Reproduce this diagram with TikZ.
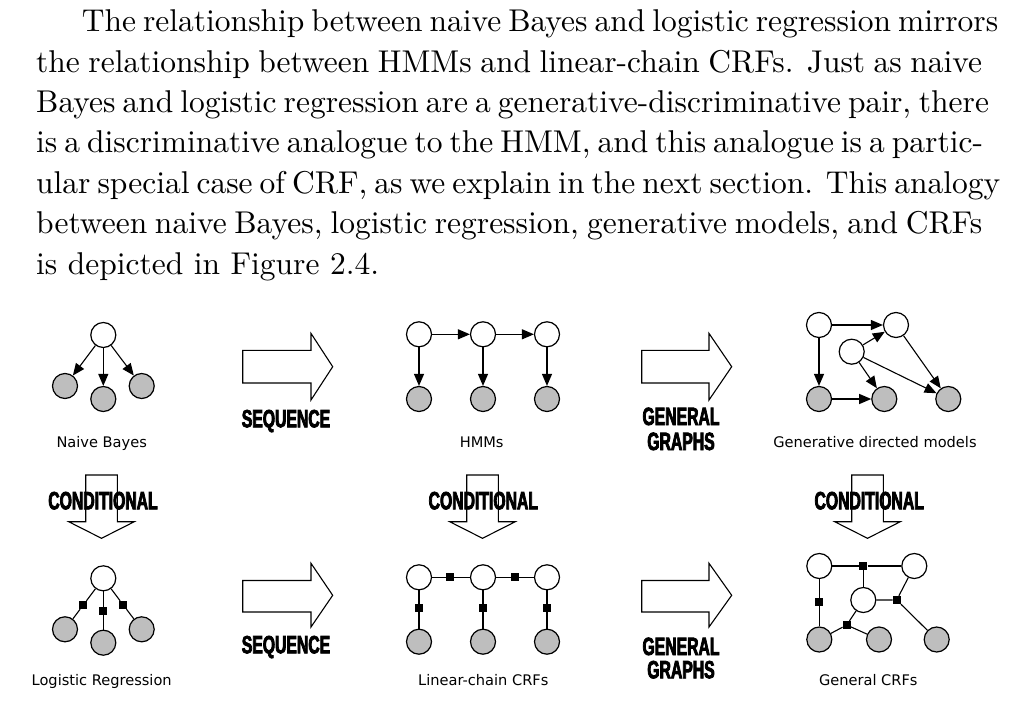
\documentclass[tikz,border=0pt]{standalone}
\usepackage{fontspec}
\usepackage{tikz}
\usetikzlibrary{arrows.meta}
\newfontfamily\bodyfont{lmroman10-regular.otf}
\newfontfamily\labelfont{DejaVu Sans}
\newfontfamily\heavyfont{Liberation Sans}[FakeStretch=0.63,FakeBold=3]
\definecolor{obsgray}{RGB}{190,190,190}

\begin{document}
\begin{tikzpicture}[x=1pt,y=-1pt,
		hidden/.style={circle,draw,line width=1.2pt,fill=white,minimum size=25pt,inner sep=0pt},
		observed/.style={hidden,fill=obsgray},
		factor/.style={rectangle,fill=black,minimum size=8pt,inner sep=0pt},
		edge/.style={line width=1.1pt,-{Triangle[length=12pt,width=10pt]}},
		link/.style={line width=1.1pt},
		blockarrow/.style={line width=1.1pt,fill=white},
		caption/.style={font=\labelfont\fontsize{14.6}{16}\selectfont,anchor=base,inner sep=0pt},
		operation/.style={font=\heavyfont\bfseries\fontsize{25}{27}\selectfont,anchor=base,inner sep=0pt},
		textline/.style={font=\bodyfont\fontsize{31.5}{40.4}\selectfont,anchor=base west,inner sep=0pt}]
			\useasboundingbox (0,0) rectangle (1015,704);
			
			\node[textline] (line1) at (81.7,31.7) {\makebox[900.3pt][s]{The relationship between naive Bayes and logistic regression mirrors}};
			\node[textline] (line2) at (36,72.1) {\makebox[946pt][s]{the relationship between HMMs and linear-chain CRFs. Just as naive}};
			\node[textline] (line3) at (36,112.5) {\makebox[946pt][s]{Bayes and logistic regression are a generative-discriminative pair, there}};
			\node[textline] (line4) at (36,152.9) {\makebox[946pt][s]{is a discriminative analogue to the HMM, and this analogue is a partic-}};
			\node[textline] (line5) at (36,193.3) {\makebox[946pt][s]{ular special case of CRF, as we explain in the next section. This analogy}};
			\node[textline] (line6) at (36,233.7) {\makebox[946pt][s]{between naive Bayes, logistic regression, generative models, and CRFs}};
			\node[textline] (line7) at (36,274.1) {is depicted in Figure 2.4.};
			
			\draw[blockarrow] (242.7,350.4) -- (311,350.4) -- (311,333.4) -- (332.7,366.7) -- (311,400) -- (311,383) -- (242.7,383) -- cycle;
			\draw[blockarrow] (641.7,350.4) -- (709,350.4) -- (709,333.4) -- (731.7,366.7) -- (709,400) -- (709,383) -- (641.7,383) -- cycle;
			\draw[blockarrow] (242.7,580.5) -- (311,580.5) -- (311,563.3) -- (332.7,595.3) -- (311,627) -- (311,612) -- (242.7,612) -- cycle;
			\draw[blockarrow] (641.7,580.5) -- (709,580.5) -- (709,563.3) -- (731.7,595.3) -- (709,627) -- (709,612) -- (641.7,612) -- cycle;
			\draw[blockarrow] (85.7,475) -- (117.3,475) -- (117.3,521.7) -- (134.3,521.7) -- (101.5,538.3) -- (68.7,521.7) -- (85.7,521.7) -- cycle;
			\draw[blockarrow] (466.7,475) -- (498.3,475) -- (498.3,521.7) -- (515.3,521.7) -- (482.5,538.3) -- (449.7,521.7) -- (466.7,521.7) -- cycle;
			\draw[blockarrow] (851.7,475) -- (883.3,475) -- (883.3,521.7) -- (900.3,521.7) -- (867.5,538.3) -- (834.7,521.7) -- (851.7,521.7) -- cycle;
			
			\node[operation] (seqtop) at (286,427.3) {SEQUENCE};
			\node[operation] (seqbot) at (286,653.3) {SEQUENCE};
			\node[operation] (gentop) at (681,425) {GENERAL};
			\node[operation] (grtop) at (681,450) {GRAPHS};
			\node[operation] (genbot) at (681,655) {GENERAL};
			\node[operation] (grbot) at (681,678.3) {GRAPHS};
			\node[operation] (condnb) at (103,509.3) {CONDITIONAL};
			\node[operation] (condhmm) at (483.3,509.3) {CONDITIONAL};
			\node[operation] (condgen) at (869.2,509.3) {CONDITIONAL};
			
			\node[hidden] (nb) at (103.3,335) {};
			\node[observed] (nb1) at (65,386) {};
			\node[observed] (nb2) at (103.3,399) {};
			\node[observed] (nb3) at (141.7,386) {};
			\draw[edge] (nb) -- (nb1);
			\draw[edge] (nb) -- (nb2);
			\draw[edge] (nb) -- (nb3);
			\node[caption] (nbtext) at (101.7,447) {Naive Bayes};
			
			\node[hidden] (h1) at (419,334.3) {};
			\node[hidden] (h2) at (483,334.3) {};
			\node[hidden] (h3) at (547,334.3) {};
			\node[observed] (o1) at (419,399) {};
			\node[observed] (o2) at (483,399) {};
			\node[observed] (o3) at (547,399) {};
			\draw[edge] (h1) -- (h2);
			\draw[edge] (h2) -- (h3);
			\draw[edge] (h1) -- (o1);
			\draw[edge] (h2) -- (o2);
			\draw[edge] (h3) -- (o3);
			\node[caption] (hmmtext) at (481.7,447) {HMMs};
			
			\node[hidden] (g1) at (819,325) {};
			\node[hidden] (g2) at (896,325) {};
			\node[hidden] (g3) at (851.7,351.7) {};
			\node[observed] (go1) at (819,399) {};
			\node[observed] (go2) at (884.3,399) {};
			\node[observed] (go3) at (948.3,399) {};
			\draw[edge] (g1) -- (g2);
			\draw[edge] (g1) -- (go1);
			\draw[edge] (g3) -- (g2);
			\draw[edge] (g3) -- (go2);
			\draw[edge] (g3) -- (go3);
			\draw[edge] (g2) -- (go3);
			\draw[edge] (go1) -- (go2);
			\node[caption] (gentext) at (875,447) {Generative directed models};
			
			\node[hidden] (lr) at (103.3,578.3) {};
			\node[observed] (lr1) at (65,629.3) {};
			\node[observed] (lr2) at (103.3,642.7) {};
			\node[observed] (lr3) at (141.7,629.3) {};
			\node[factor] (lrf1) at (83.3,605) {};
			\node[factor] (lrf2) at (103.3,611.2) {};
			\node[factor] (lrf3) at (123.3,605) {};
			\draw[link] (lr) -- (lrf1) -- (lr1);
			\draw[link] (lr) -- (lrf2) -- (lr2);
			\draw[link] (lr) -- (lrf3) -- (lr3);
			\node[caption] (lrtext) at (101.7,685) {Logistic Regression};
			
			\node[hidden] (c1) at (419,577.3) {};
			\node[hidden] (c2) at (483,577.3) {};
			\node[hidden] (c3) at (547,577.3) {};
			\node[observed] (co1) at (419,641.7) {};
			\node[observed] (co2) at (483,641.7) {};
			\node[observed] (co3) at (547,641.7) {};
			\node[factor] (cf12) at (450,577.3) {};
			\node[factor] (cf23) at (515,577.3) {};
			\node[factor] (cf1) at (419,608) {};
			\node[factor] (cf2) at (483,608) {};
			\node[factor] (cf3) at (547,608) {};
			\draw[link] (c1) -- (cf12) -- (c2) -- (cf23) -- (c3);
			\draw[link] (c1) -- (cf1) -- (co1);
			\draw[link] (c2) -- (cf2) -- (co2);
			\draw[link] (c3) -- (cf3) -- (co3);
			\node[caption] (lctext) at (483.3,685) {Linear-chain CRFs};
			
			\node[hidden] (w1) at (819.3,566) {};
			\node[hidden] (w2) at (914.3,566) {};
			\node[hidden] (w3) at (863.3,600) {};
			\node[observed] (gr1) at (819.3,639.5) {};
			\node[observed] (gr2) at (879,639.5) {};
			\node[observed] (gr3) at (936.7,639.5) {};
			\node[factor] (fa) at (863.3,566) {};
			\node[factor] (fb) at (819.3,602) {};
			\node[factor] (fc) at (896.7,600) {};
			\node[factor] (fd) at (846.7,625) {};
			\draw[link] (w1) -- (fa) -- (w2);
			\draw[link] (fa) -- (w3);
			\draw[link] (w1) -- (fb) -- (gr1);
			\draw[link] (w3) -- (fc) -- (w2);
			\draw[link] (fc) -- (gr3);
			\draw[link] (w3) -- (fd) -- (gr1);
			\draw[link] (fd) -- (gr2);
			\node[caption] (crftext) at (868.3,685) {General CRFs};
			
		\end{tikzpicture}
\end{document}
